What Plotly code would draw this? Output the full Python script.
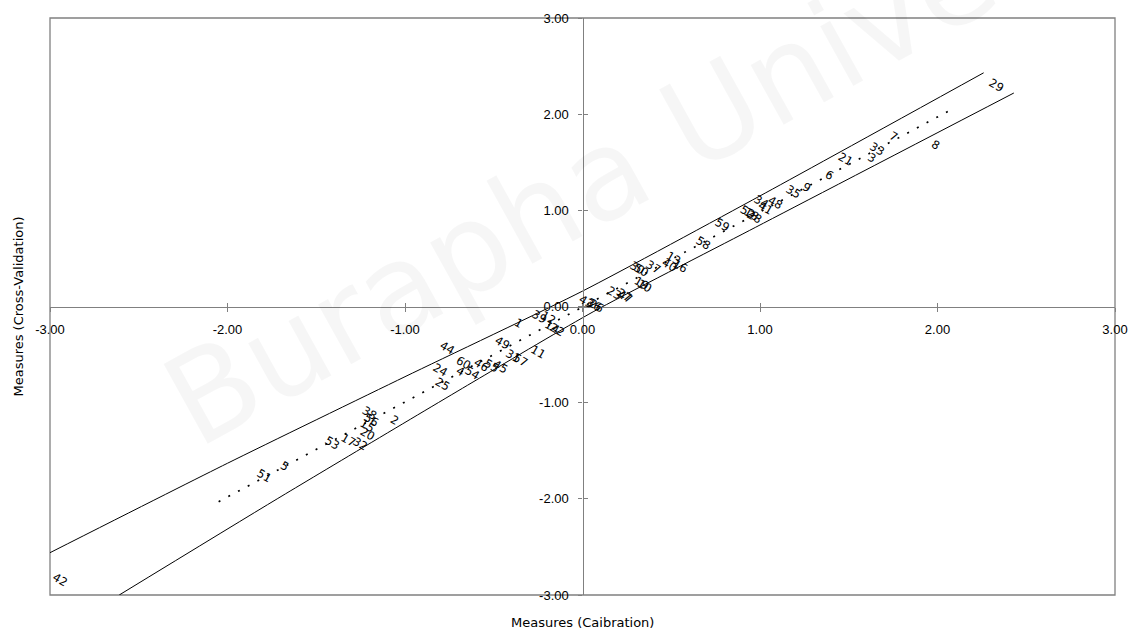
import plotly.graph_objects as go

# ---------------- data ----------------
item_labels = ["29", "8", "7", "33", "3", "21", "6", "9", "35", "48", "34", "41", "52", "28", "18",
               "59", "58", "13", "40", "16", "37", "30", "50", "19", "10", "23", "47", "27", "43",
               "36", "26", "39", "12", "14", "22", "1", "11", "49", "31", "57", "44", "60", "4",
               "54", "46", "55", "45", "24", "25", "2", "38", "56", "15", "20", "17", "32", "53",
               "5", "51", "42"]
x_calibration = [2.33, 1.99, 1.75, 1.66, 1.63, 1.48, 1.39, 1.26, 1.19, 1.09, 1.01, 1.03, 0.93, 0.97, 0.95,
                 0.79, 0.68, 0.51, 0.49, 0.55, 0.40, 0.31, 0.33, 0.33, 0.35, 0.18, 0.245, 0.235, 0.025,
                 0.07, 0.08, -0.24, -0.19, -0.17, -0.14, -0.36, -0.25, -0.45, -0.39, -0.35, -0.76, -0.67, -0.69,
                 -0.62, -0.57, -0.51, -0.46, -0.80, -0.79, -1.06, -1.20, -1.19, -1.21, -1.21, -1.32, -1.25, -1.41,
                 -1.68, -1.79, -2.94]
y_crossval = [2.30, 1.68, 1.77, 1.64, 1.54, 1.53, 1.37, 1.24, 1.19, 1.08, 1.09, 1.02, 0.98, 0.93, 0.96,
              0.85, 0.66, 0.50, 0.43, 0.42, 0.41, 0.40, 0.38, 0.24, 0.21, 0.14, 0.10, 0.12, 0.05,
              0.02, 0.005, -0.11, -0.12, -0.21, -0.24, -0.17, -0.47, -0.38, -0.51, -0.56, -0.43, -0.59, -0.67,
              -0.69, -0.61, -0.62, -0.63, -0.66, -0.81, -1.18, -1.11, -1.18, -1.24, -1.33, -1.39, -1.43, -1.42,
              -1.66, -1.76, -2.84]

identity_x = [-2.05, 2.07]
identity_y = [-2.03, 2.04]

upper_x = [-3.0, -2.0, -1.0, 0.0, 1.0, 2.26]
upper_y = [-2.56, -1.63, -0.73, 0.16, 1.15, 2.43]
lower_x = [-2.61, -1.72, -0.58, 0.06, 0.94, 2.43]
lower_y = [-3.0, -2.0, -0.745, -0.055, 0.79, 2.22]

tick_vals = [-3, -2, -1, 0, 1, 2, 3]
tick_text = ["-3.00", "-2.00", "-1.00", "0.00", "1.00", "2.00", "3.00"]

x_title = "Measures (Caibration)"
y_title = "Measures (Cross-Validation)"
watermark = "Burapha University"

# ---------------- figure ----------------
fig = go.Figure()

fig.add_trace(go.Scatter(x=upper_x, y=upper_y, mode="lines",
                         line=dict(color="black", width=1, shape="spline", smoothing=0.6),
                         hoverinfo="skip", showlegend=False))
fig.add_trace(go.Scatter(x=lower_x, y=lower_y, mode="lines",
                         line=dict(color="black", width=1, shape="spline", smoothing=0.6),
                         hoverinfo="skip", showlegend=False))
fig.add_trace(go.Scatter(x=identity_x, y=identity_y, mode="lines",
                         line=dict(color="black", width=1.7, dash="2px,9px"),
                         hoverinfo="skip", showlegend=False))
fig.add_trace(go.Scatter(x=x_calibration, y=y_crossval, mode="markers",
                         marker=dict(size=1, opacity=0), text=item_labels,
                         showlegend=False))
# dummy trace for overlay axes (inside tick marks -> crossing ticks)
fig.add_trace(go.Scatter(x=[None], y=[None], xaxis="x2", yaxis="y2", showlegend=False))

annotations = []
annotations.append(dict(x=0.61, y=0.82, xref="paper", yref="paper", text=watermark,
                        showarrow=False, textangle=-29, xanchor="center", yanchor="middle",
                        font=dict(family="DejaVu Sans", size=125, color="rgba(0,0,0,0.035)")))
for lab, xv, yv in zip(item_labels, x_calibration, y_crossval):
    annotations.append(dict(x=xv, y=yv, xref="x", yref="y", text=lab, showarrow=False,
                            textangle=30, xanchor="center", yanchor="middle",
                            font=dict(family="DejaVu Sans", size=11.5, color="black")))

annotations.append(dict(x=0.5, y=-0.047, xref="paper", yref="paper", text=x_title,
                        showarrow=False, xanchor="center", yanchor="middle",
                        font=dict(family="DejaVu Sans", size=13, color="black")))
annotations.append(dict(x=-0.030, y=0.5, xref="paper", yref="paper", text=y_title,
                        showarrow=False, textangle=-90, xanchor="center", yanchor="middle",
                        font=dict(family="DejaVu Sans", size=13, color="black")))

axis_common = dict(range=[-3, 3], tickvals=tick_vals, ticktext=tick_text, showgrid=False,
                   zeroline=False, showline=True, linecolor="#808080", linewidth=1.3,
                   ticks="outside", ticklen=4, tickcolor="#808080", tickwidth=1.3,
                   tickfont=dict(family="Liberation Sans", size=13, color="black"),
                   anchor="free", position=0.5, automargin=False, fixedrange=True)

fig.update_layout(
    width=1136, height=633,
    margin=dict(l=50, r=21, t=18, b=38),
    paper_bgcolor="white", plot_bgcolor="white",
    xaxis=dict(domain=[0, 1], ticklabelstandoff=7, **axis_common),
    yaxis=dict(domain=[0, 1], ticklabelstandoff=7, **axis_common),
    xaxis2=dict(overlaying="x", anchor="free", position=0.5, range=[-3, 3], tickvals=tick_vals,
                showticklabels=False, ticks="inside", ticklen=4, tickcolor="#808080", tickwidth=1.3,
                showgrid=False, zeroline=False, showline=False, fixedrange=True),
    yaxis2=dict(overlaying="y", anchor="free", position=0.5, range=[-3, 3], tickvals=tick_vals,
                showticklabels=False, ticks="inside", ticklen=4, tickcolor="#808080", tickwidth=1.3,
                showgrid=False, zeroline=False, showline=False, fixedrange=True),
    shapes=[dict(type="rect", xref="paper", yref="paper", x0=0, y0=0, x1=1, y1=1,
                 line=dict(color="#808080", width=1.3), layer="below")],
    annotations=annotations,
    showlegend=False,
)

fig.write_html("out.html", config={"displayModeBar": False},
               post_script="document.body.style.margin='0';document.body.style.overflow='hidden';")
